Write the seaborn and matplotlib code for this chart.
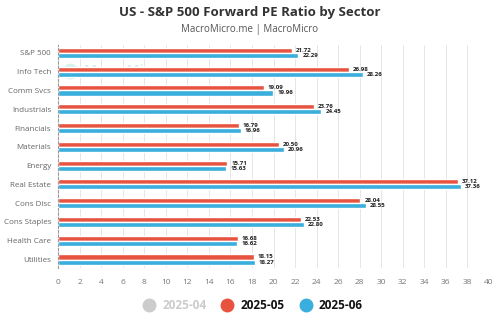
import matplotlib
matplotlib.use("Agg")
import matplotlib.pyplot as plt
import seaborn as sns
import pandas as pd
from matplotlib.lines import Line2D

sectors = ["S&P 500", "Info Tech", "Comm Svcs", "Industrials", "Financials", "Materials",
           "Energy", "Real Estate", "Cons Disc", "Cons Staples", "Health Care", "Utilities"]
may_vals = [21.72, 26.98, 19.09, 23.76, 16.79, 20.50, 15.71, 37.12, 28.04, 22.53, 16.68, 18.15]
jun_vals = [22.29, 28.26, 19.96, 24.45, 16.96, 20.96, 15.63, 37.36, 28.55, 22.80, 16.62, 18.27]
months = ["2025-05", "2025-06"]
x_ticks = list(range(0, 41, 2))

df = pd.DataFrame({
    "Sector": sectors * 2,
    "Value": may_vals + jun_vals,
    "Month": [months[0]] * len(sectors) + [months[1]] * len(sectors),
})

red = "#E8533F"
blue = "#3AAEDC"
gray = "#CCCCCC"

sns.set_theme(style="white")
plt.rcParams['font.family'] = ['Open Sans', 'DejaVu Sans']

fig = plt.figure(figsize=(5, 3.26), dpi=100)
ax = fig.add_axes([0.116, 0.178, 0.862, 0.684])

sns.barplot(data=df, y="Sector", x="Value", hue="Month", palette=[red, blue],
            orient="h", width=0.54, dodge=True, ax=ax, legend=False, saturation=1)

for cont in ax.containers:
    ax.bar_label(cont, fmt="%.2f", padding=3, fontsize=4.4, fontweight="bold", color="#222222")

ax.set_xlim(0, 40)
ax.set_ylim(11.45, -0.42)
ax.set_xticks(x_ticks)
ax.set_xticklabels([str(t) for t in x_ticks], fontsize=6, color="#777777")
ax.tick_params(axis="y", labelsize=5.8, colors="#666666", length=0, pad=5)
ax.tick_params(axis="x", length=0, pad=8)
ax.set_xlabel("")
ax.set_ylabel("")
ax.grid(axis="x", color="#E6E6E6", linewidth=0.7)
ax.set_axisbelow(True)
for s in ["top", "right", "bottom"]:
    ax.spines[s].set_visible(False)
ax.spines["left"].set_linestyle((0, (2, 2)))
ax.spines["left"].set_color("#999999")
ax.spines["left"].set_linewidth(0.8)

ax.text(0.06, 0.885, "MacroMicro", transform=ax.transAxes, fontsize=10, fontweight="bold",
        color="#D5EEEC", va="center", zorder=0)
ax.scatter([0.028], [0.885], transform=ax.transAxes, s=110, color="#D5F3EE", zorder=0)

fig.text(0.5, 0.962, "US - S&P 500 Forward PE Ratio by Sector", ha="center", va="center",
         fontsize=9.5, fontweight="bold", color="#333333")
fig.text(0.5, 0.908, "MacroMicro.me | MacroMicro", ha="center", va="center",
         fontsize=7, color="#555555")

handles = [Line2D([], [], marker="o", linestyle="", markersize=9, color=c) for c in [gray, red, blue]]
leg = fig.legend(handles, ["2025-04", "2025-05", "2025-06"], loc="center", bbox_to_anchor=(0.5, 0.064),
                 ncol=3, frameon=False, handletextpad=0.1, columnspacing=0.8,
                 prop={"weight": "bold", "size": 8.5})
for t, c in zip(leg.get_texts(), ["#CCCCCC", "#111111", "#111111"]):
    t.set_color(c)

fig.savefig("out.png", dpi=100)
